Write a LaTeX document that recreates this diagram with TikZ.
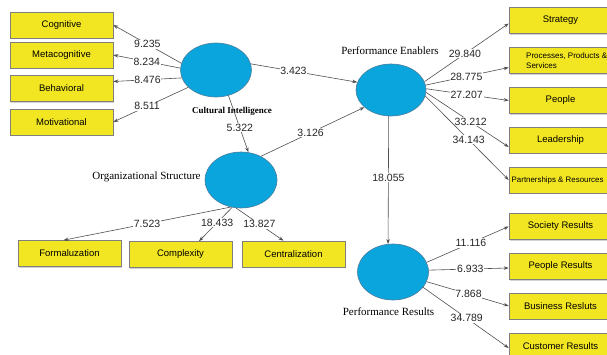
\documentclass[tikz,border=0pt]{standalone}
\usepackage{fontspec}
\setmainfont{Liberation Sans}
\newfontfamily\timesf{Liberation Serif}
\usetikzlibrary{arrows.meta,shapes.geometric,shadows,calc}
\definecolor{boxyellow}{HTML}{F2E623}
\definecolor{boxedge}{HTML}{7F7F7F}
\definecolor{ellblue}{HTML}{0AA5DD}
\definecolor{elledge}{HTML}{4A7D9C}
\definecolor{linegray}{HTML}{505050}
\begin{document}
\begin{tikzpicture}[x=1pt,y=-1pt,
  ybox/.style={draw=boxedge,line width=0.6pt,fill=boxyellow,minimum width=103pt,minimum height=26pt,inner sep=0pt,font=\fontsize{9.5}{11}\selectfont,
    drop shadow={shadow xshift=1.2pt,shadow yshift=-1.2pt,fill=black!35}},
  lv/.style={draw=elledge,line width=0.6pt,fill=ellblue,ellipse,inner sep=0pt},
  lvlabel/.style={font=\timesf\fontsize{11}{13}\selectfont,inner sep=0pt},
  conn/.style={draw=linegray,line width=0.6pt,-{Stealth[length=5pt,width=3.5pt]}},
  lbl/.style={fill=white,inner sep=0.8pt,font=\fontsize{10.5}{12}\selectfont,text=black!85}]
\clip (0,0) rectangle (607,355);
\fill[white] (0,0) rectangle (607,355);

% left indicator boxes
\node[ybox] (cog) at (61.5,25) {Cognitive};
\node[ybox] (meta) at (61.5,55) {Metacognitive};
\node[ybox] (beh) at (61.5,88.5) {Behavioral};
\node[ybox] (mot) at (61.5,122) {Motivational};

% right indicator boxes
\node[ybox] (strat) at (560.5,20.5) {Strategy};
\node[ybox] (proc) at (560.5,60.5) {};
\node[font=\fontsize{8}{9.5}\selectfont,align=left,anchor=west,inner sep=0pt] (proct) at (526,60.5) {Processes, Products \&\\Services};
\node[ybox] (peop) at (560.5,100.5) {People};
\node[ybox] (lead) at (560.5,140) {Leadership};
\node[ybox] (part) at (560.5,180) {};
\node[font=\fontsize{7.9}{9.5}\selectfont,anchor=west,inner sep=0pt] (partt) at (511.5,180) {Partnerships \& Resources};

\node[ybox] (soc) at (560.5,226.5) {Society Results};
\node[ybox] (pres) at (560.5,266.5) {People Results};
\node[ybox] (bus) at (560.5,306) {Business Resluts};
\node[ybox] (cust) at (560.5,346) {Customer Results};

% bottom indicator boxes
\node[ybox] (form) at (69.5,253.5) {Formaluzation};
\node[ybox] (comp) at (180.5,254.5) {Complexity};
\node[ybox] (cent) at (293.5,254) {Centralization};

% latent variables
\node[lv,minimum width=71pt,minimum height=54pt] (ci) at (216,70) {};
\node[lv,minimum width=72pt,minimum height=56pt] (os) at (241,180) {};
\node[lv,minimum width=70pt,minimum height=52pt] (pe) at (391,90) {};
\node[lv,minimum width=71pt,minimum height=56pt] (pr) at (393,272) {};

\node[lvlabel,font=\timesf\bfseries\fontsize{9}{11}\selectfont] (cil) at (232,111) {Cultural Intelligence};
\node[lvlabel] (osl) at (146.5,177) {Organizational Structure};
\node[lvlabel] (pel) at (390,51) {Performance Enablers};
\node[lvlabel] (prl) at (388.5,312) {Performance Results};

% connectors: cultural intelligence
\draw[conn] (ci.169) -- node[lbl,pos=0.5] {9.235} (cog.east);
\draw[conn] (ci.177) -- node[lbl,pos=0.5] {8.234} (meta.east);
\draw[conn] (ci.193) -- node[lbl,pos=0.5] {8.476} ($(beh.east)+(0,-7)$);
\draw[conn] (ci.212) -- node[lbl,pos=0.55] {8.511} (mot.east);
\draw[conn] (ci.10) -- node[lbl,pos=0.4] {3.423} (pe.167);
\draw[conn] (ci.-64) -- node[lbl,pos=0.57] {5.322} (os.75);

% organizational structure
\draw[conn] (os.50) -- node[lbl,pos=0.48] {3.126} (pe.213);
\draw[conn] (os.-111) -- node[lbl,pos=0.5] {7.523} ($(form.north)+(-6,0)$);
\draw[conn] (os.-108) -- node[lbl,pos=0.45] {18.433} ($(comp.north)+(18.5,0)$);
\draw[conn] (os.-100) -- node[lbl,pos=0.49] {13.827} ($(cent.north)+(-10,0)$);

% performance enablers
\draw[conn] (pe.14) -- node[lbl,pos=0.48] {29.840} ($(strat.west)+(0,3)$);
\draw[conn] (pe.8) -- node[lbl,pos=0.49] {28.775} ($(proc.west)+(0,7)$);
\draw[conn] (pe.2) -- node[lbl,pos=0.49] {27.207} (peop.west);
\draw[conn] (pe.-4) -- node[lbl,pos=0.54] {33.212} ($(lead.west)+(0,7)$);
\draw[conn] (pe.-10) -- node[lbl,pos=0.52] {34.143} (part.west);
\draw[conn] (pe.265) -- node[lbl,pos=0.48] {18.055} (pr.100);

% performance results
\draw[conn] (pr.16) -- node[lbl,pos=0.54] {11.116} (soc.west);
\draw[conn] (pr.3) -- node[lbl,pos=0.52] {6.933} ($(pres.west)+(0,1.5)$);
\draw[conn] (pr.-16) -- node[lbl,pos=0.51] {7.868} (bus.west);
\draw[conn] (pr.-27) -- node[lbl,pos=0.51] {34.789} ($(cust.west)+(0,2)$);
\end{tikzpicture}
\end{document}
